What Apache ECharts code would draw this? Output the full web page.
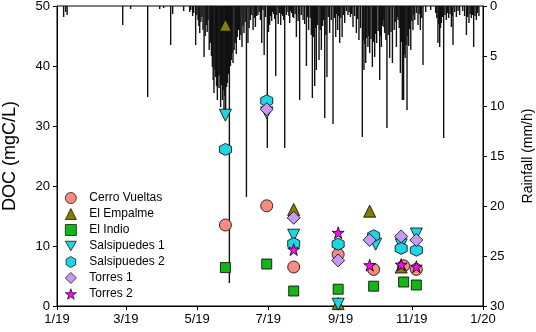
<!DOCTYPE html>
<html>
<head>
<meta charset="utf-8">
<script src="https://cdn.jsdelivr.net/npm/echarts@6/dist/echarts.min.js"></script>
<style>
  html, body { margin: 0; padding: 0; background: #fff; }
  #chart { width: 536px; height: 332px; }
</style>
</head>
<body>
<div id="chart"></div>
<script>
  // x is day of year counted from 1 Jan 2019
  const tickDays = [0, 59, 120, 181, 243, 304, 365]
  const tickLabels = ['1/19', '3/19', '5/19', '7/19', '9/19', '11/19', '1/20']

  const cerroVueltas = [[144.3, 13.5], [179.7, 16.7], [202.8, 6.5], [240.9, 8.6], [271.3, 6.1], [297.0, 6.7], [307.9, 6.1]]
  const elEmpalme = [[144.3, 46.8], [202.8, 16.1], [240.9, 0.4], [267.9, 15.8], [294.9, 6.5]]
  const elIndio = [[144.3, 6.4], [179.7, 7.0], [202.8, 2.5], [240.9, 2.8], [271.3, 3.3], [297.0, 4.0], [307.9, 3.5]]
  const salsipuedes1 = [[144.3, 31.8], [179.7, 32.2], [202.8, 11.8], [240.9, 0.3], [273.0, 10.3], [294.9, 10.2], [307.9, 12.0]]
  const salsipuedes2 = [[144.3, 26.1], [179.7, 34.2], [202.8, 10.4], [240.9, 10.3], [271.3, 11.7], [294.9, 9.6], [307.9, 9.3]]
  const torres1 = [[179.7, 32.8], [202.8, 14.7], [240.9, 7.6], [267.9, 11.0], [294.9, 11.6], [307.9, 11.0]]
  const torres2 = [[202.8, 9.4], [240.9, 12.2], [267.9, 6.8], [294.9, 6.9], [307.9, 6.55]]

  // rainfall (mm/h), [day, value]
  const rainfall = [
    [5.7, 1.1], [7.5, 0.6], [8.7, 0.9], [56.3, 1.9], [63.1, 0.3], [77.7, 9.1], [88.0, 0.3], [91.4, 0.2],
    [97.4, 3.9], [99.1, 0.8], [108.5, 0.5], [113.7, 0.6], [114.6, 0.4], [116.2, 1.0], [117.1, 0.7], [118.8, 3.9],
    [119.8, 0.9], [120.8, 1.4], [121.5, 2.0], [122.3, 2.7], [123.3, 1.6], [124.2, 1.1], [125.1, 2.4], [126.0, 5.1],
    [127.0, 3.0], [128.0, 1.9], [128.7, 2.6], [129.4, 1.4], [130.4, 4.4], [131.4, 3.7], [132.3, 5.0],
    [133.1, 6.1], [133.8, 7.4], [134.5, 8.7], [135.3, 6.4], [136.0, 7.1], [136.7, 8.0], [137.4, 9.4], [138.1, 7.0],
    [138.8, 8.2], [139.5, 6.9], [140.2, 10.1], [141.0, 7.9], [141.7, 9.4], [142.4, 8.4],
    [143.1, 10.7], [143.8, 9.0], [144.5, 10.7], [145.3, 8.1], [146.0, 7.7], [146.8, 6.8], [147.7, 27.7], [148.6, 6.0],
    [149.4, 5.4], [150.1, 4.7], [150.8, 5.7], [151.8, 4.4], [152.8, 3.7], [153.6, 4.8],
    [154.5, 3.1], [155.5, 2.4], [156.5, 3.4], [157.5, 2.9], [158.5, 4.1], [159.4, 2.0], [160.2, 2.7], [161.2, 1.6],
    [162.3, 19.1], [163.6, 3.7], [164.6, 2.2], [165.7, 1.4], [166.9, 0.9],
    [168.0, 2.4], [169.0, 1.2], [170.0, 2.1], [171.1, 1.0], [172.2, 0.9], [173.2, 0.6], [174.3, 1.4], [175.4, 3.7],
    [176.5, 0.4], [177.5, 4.9], [178.6, 1.1], [180.2, 14.2], [181.2, 2.6], [182.2, 1.9], [183.0, 1.0], [183.9, 1.5],
    [184.8, 0.6], [185.7, 0.8], [186.5, 1.3], [187.4, 7.0], [188.4, 0.9], [189.5, 1.8], [190.6, 0.7], [191.7, 1.9],
    [192.5, 0.8], [193.4, 1.0], [194.2, 1.4], [195.1, 14.2], [196.5, 0.9], [197.9, 0.6], [198.7, 1.0], [199.4, 1.7],
    [200.2, 0.5], [201.1, 0.7], [202.0, 1.1], [202.8, 1.2], [204.0, 0.8], [205.1, 3.1],
    [206.6, 1.5], [207.3, 0.8], [207.9, 9.4], [209.3, 0.9], [210.8, 1.4], [212.2, 1.8], [213.7, 6.0], [214.6, 1.1],
    [215.6, 2.4], [216.9, 1.2], [217.9, 2.9], [218.8, 9.2],
    [219.8, 3.1], [220.8, 8.0], [221.5, 2.2], [222.2, 6.4], [223.4, 1.9], [224.5, 5.4], [225.5, 2.4], [226.5, 4.4],
    [227.6, 2.0], [228.5, 1.4], [229.4, 11.2], [230.4, 2.9], [231.3, 7.1],
    [232.4, 1.1], [233.6, 2.7], [235.0, 1.4], [236.5, 11.8], [237.6, 1.2], [238.8, 3.1], [239.7, 0.8], [240.5, 2.4],
    [241.4, 1.0], [242.2, 3.7], [243.2, 1.2], [244.3, 3.1], [245.4, 0.9], [246.5, 1.7],
    [247.9, 0.5], [249.3, 0.9], [250.3, 0.6], [251.4, 1.1], [252.5, 0.8], [253.6, 2.1], [255.0, 1.0], [256.5, 2.7],
    [257.6, 1.3], [258.7, 3.4], [260.1, 2.2], [261.6, 13.1], [262.3, 3.4], [263.0, 6.4],
    [263.8, 3.8], [264.5, 5.7], [265.4, 3.2], [266.4, 4.1], [267.1, 3.0], [267.9, 4.7], [269.0, 3.3], [270.2, 6.1],
    [271.2, 3.6], [272.2, 5.1], [273.0, 2.8], [273.9, 3.7], [275.2, 2.5], [276.5, 7.4],
    [277.2, 3.0], [277.9, 4.1], [278.7, 2.0], [279.5, 1.4], [280.1, 2.1], [280.8, 2.7], [281.8, 3.4], [282.7, 12.2],
    [283.8, 2.9], [285.0, 5.2], [286.2, 2.6], [287.4, 5.7], [288.9, 2.4],
    [289.8, 1.6], [290.8, 4.1], [291.5, 1.1], [292.3, 1.4], [293.2, 2.2], [294.2, 6.7], [295.0, 3.6], [295.9, 9.4],
    [297.0, 9.4], [297.6, 4.8], [298.3, 5.2], [299.1, 3.9], [299.9, 10.4],
    [300.6, 3.0], [301.3, 4.0], [302.2, 2.3], [303.1, 4.4], [304.0, 1.5], [305.0, 2.4], [305.8, 0.9], [306.5, 1.4],
    [307.9, 0.7], [309.3, 1.9], [310.3, 0.8], [311.3, 2.4], [312.4, 1.2], [313.6, 5.9],
    [315.9, 0.6], [320.2, 0.4], [324.4, 0.7], [325.4, 1.2], [326.4, 3.7], [327.1, 1.8], [327.9, 4.1], [328.6, 2.2],
    [329.3, 1.7], [330.3, 1.1], [331.3, 13.2], [332.4, 0.9], [333.6, 1.4], [334.6, 0.7], [335.6, 1.2], [336.8, 0.8],
    [337.9, 2.1], [338.6, 1.0], [339.3, 3.9], [340.7, 0.6], [342.2, 1.1], [343.6, 0.5], [345.0, 0.9], [347.6, 0.5],
    [349.2, 1.0], [350.8, 2.9], [351.9, 1.1], [353.0, 1.7], [354.0, 0.8], [355.0, 1.2], [356.0, 0.9], [357.0, 4.1],
    [358.1, 1.0], [359.3, 1.4], [360.4, 0.7], [361.5, 1.0]
  ]

  const font = 'Liberation Sans, Arial, sans-serif'
  const hexagon = 'path://M5,0 L9.33,2.5 L9.33,7.5 L5,10 L0.67,7.5 L0.67,2.5 Z'
  const downTriangle = 'path://M0,0 L10,0 L5,8.66 Z'
  const star = 'path://M5,0 L6.18,3.6 L10,3.6 L6.9,5.85 L8.09,9.5 L5,7.25 L1.91,9.5 L3.1,5.85 L0,3.6 L3.82,3.6 Z'

  function pts (name, data, symbol, size, color) {
    return {
      name: name,
      type: 'scatter',
      data: data,
      symbol: symbol,
      symbolSize: size,
      z: 5,
      itemStyle: { color: color, borderColor: '#000', borderWidth: 0.8, opacity: 1 }
    }
  }

  const chart = echarts.init(document.getElementById('chart'))
  chart.setOption({
    backgroundColor: '#fff',
    animation: false,
    textStyle: { fontFamily: font },
    grid: {
      left: 57, right: 53, top: 6, bottom: 26,
      outerBoundsMode: 'none',
      containLabel: false,
      show: true, borderColor: '#000', borderWidth: 1
    },
    legend: {
      orient: 'vertical',
      left: 65,
      top: 192,
      padding: 0,
      itemWidth: 11,
      itemHeight: 11,
      itemGap: 4,
      itemStyle: { borderColor: '#000', borderWidth: 0.7 },
      textStyle: { fontSize: 12, color: '#000', fontFamily: font, padding: [0, 0, 0, 8] },
      data: ['Cerro Vueltas', 'El Empalme', 'El Indio', 'Salsipuedes 1', 'Salsipuedes 2', 'Torres 1', 'Torres 2']
    },
    xAxis: {
      type: 'value',
      min: 0,
      max: 365,
      axisLine: { lineStyle: { color: '#000' } },
      axisTick: { length: 4, lineStyle: { color: '#000' }, customValues: tickDays },
      axisLabel: {
        customValues: tickDays,
        fontSize: 13,
        color: '#000',
        margin: 7,
        formatter: function (v) {
          const i = tickDays.indexOf(v)
          return i >= 0 ? tickLabels[i] : ''
        }
      },
      splitLine: { show: false }
    },
    yAxis: [
      {
        type: 'value',
        min: 0,
        max: 50,
        interval: 10,
        name: 'DOC (mgC/L)',
        nameLocation: 'middle',
        nameGap: 38,
        nameTextStyle: { fontSize: 18, color: '#000' },
        axisLine: { show: true, lineStyle: { color: '#000' } },
        axisTick: { show: true, length: 4, lineStyle: { color: '#000' } },
        axisLabel: { fontSize: 13, color: '#000', margin: 7 },
        splitLine: { show: false }
      },
      {
        type: 'value',
        position: 'right',
        inverse: true,
        min: 0,
        max: 30,
        interval: 5,
        name: 'Rainfall (mm/h)',
        nameLocation: 'middle',
        nameGap: 38,
        nameTextStyle: { fontSize: 14, color: '#000' },
        axisLine: { show: true, lineStyle: { color: '#000' } },
        axisTick: { show: true, length: 4, lineStyle: { color: '#000' } },
        axisLabel: { fontSize: 13, color: '#000', margin: 7 },
        splitLine: { show: false }
      }
    ],
    series: [
      {
        name: 'Rainfall',
        type: 'bar',
        yAxisIndex: 1,
        barWidth: 1.4,
        data: rainfall,
        z: 1,
        itemStyle: { color: '#111' }
      },
      pts('Cerro Vueltas', cerroVueltas, 'circle', 12, '#F98B85'),
      pts('El Empalme', elEmpalme, 'triangle', 12, '#808000'),
      pts('El Indio', elIndio, 'rect', 10, '#14B514'),
      pts('Salsipuedes 1', salsipuedes1, downTriangle, 12, '#1FD5E2'),
      pts('Salsipuedes 2', salsipuedes2, hexagon, 12, '#1FD5E2'),
      pts('Torres 1', torres1, 'diamond', 13, '#C69AF2'),
      pts('Torres 2', torres2, star, 12, '#F010F0')
    ]
  })
</script>
</body>
</html>
